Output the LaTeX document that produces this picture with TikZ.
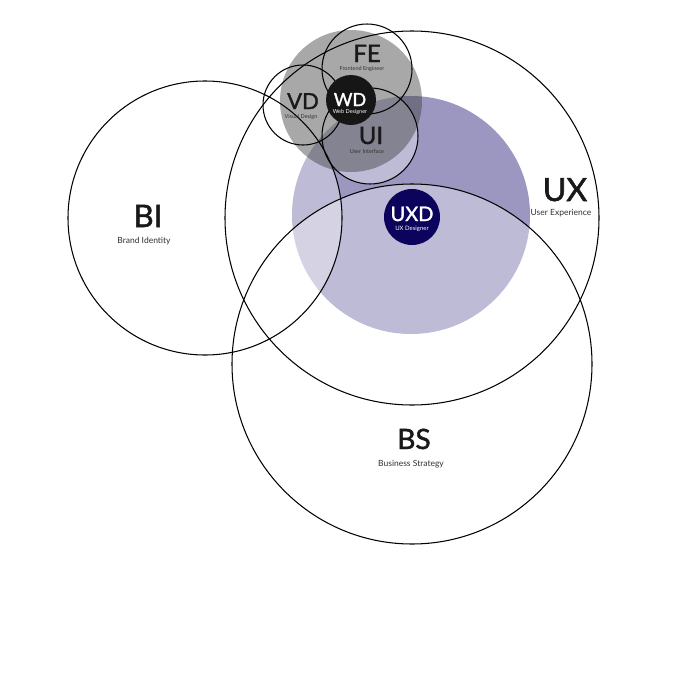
\documentclass[tikz,border=0pt]{standalone}
\usepackage{fontspec}
\setmainfont{Lato}
\newfontfamily\heavyfont{Lato}[FakeBold=1.6]
\definecolor{uxpurple}{RGB}{155,151,192}
\definecolor{uxdnavy}{RGB}{12,4,92}
\definecolor{wdblack}{RGB}{22,22,22}
\definecolor{lbl}{RGB}{25,25,25}
\definecolor{sublbl}{RGB}{50,50,50}
\tikzset{
  ring/.style={draw=black, line width=1.05pt},
  veil/.style={fill=white, fill opacity=0.35},
  big/.style={anchor=base, inner sep=0pt, text=lbl},
  sub/.style={anchor=base, inner sep=0pt, text=sublbl},
}
\newcommand{\bigsz}[1]{\heavyfont\fontsize{#1}{#1}\selectfont}
\newcommand{\subsz}[1]{\fontsize{#1}{#1}\selectfont}
\begin{document}
\begin{tikzpicture}[x=1pt,y=-1pt]
\fill[white] (0,0) rectangle (680,680);
\useasboundingbox (0,0) rectangle (680,680);
% purple UX area
\fill[uxpurple] (411,215) circle [radius=119];
% white veils
\fill[veil] (205,218) circle [radius=137];
\fill[veil] (412,364) circle [radius=180];
\fill[veil] (370,136) circle [radius=48];
% gray web cluster
\fill[black!75, fill opacity=0.45] (351,101) circle [radius=71];
% outlines
\draw[ring] (205,218) circle [radius=137];
\draw[ring] (412,218) circle [radius=187];
\draw[ring] (412,364) circle [radius=180];
\draw[ring] (367,69) circle [radius=45];
\draw[ring] (303,105) circle [radius=40];
\draw[ring] (370,136) circle [radius=48];
% solid centers
\fill[wdblack] (351,100) circle [radius=25];
\fill[uxdnavy] (412,217) circle [radius=28];
% labels
\node[big, font=\bigsz{31}] (bi) at (148,227) {BI};
\node[sub, font=\subsz{8.5}] (bisub) at (144,243) {Brand Identity};
\node[big, font=\bigsz{32}] (ux) at (565,201) {UX};
\node[sub, font=\subsz{8.5}] (uxsub) at (561,215) {User Experience};
\node[big, font=\bigsz{28}] (bs) at (414,449) {BS};
\node[sub, font=\subsz{8.5}] (bssub) at (411,466) {Business Strategy};
\node[big, font=\bigsz{24}] (fe) at (367,62) {FE};
\node[sub, font=\subsz{5.5}] (fesub) at (362,70) {Frontend Engineer};
\node[big, font=\bigsz{22}] (vd) at (303,109) {VD};
\node[sub, font=\subsz{5.5}] (vdsub) at (301,118) {Visual Design};
\node[big, font=\bigsz{24}] (ui) at (371,144) {UI};
\node[sub, font=\subsz{5.5}] (uisub) at (367,153) {User Interface};
\node[big, text=white, font=\bigsz{18}] (wd) at (350,106) {WD};
\node[sub, text=white, font=\subsz{5.5}] (wdsub) at (350,113) {Web Designer};
\node[big, text=white, font=\bigsz{20}] (uxd) at (412,221) {UXD};
\node[sub, text=white, font=\subsz{6}] (uxdsub) at (412,230) {UX Designer};
\end{tikzpicture}
\end{document}
